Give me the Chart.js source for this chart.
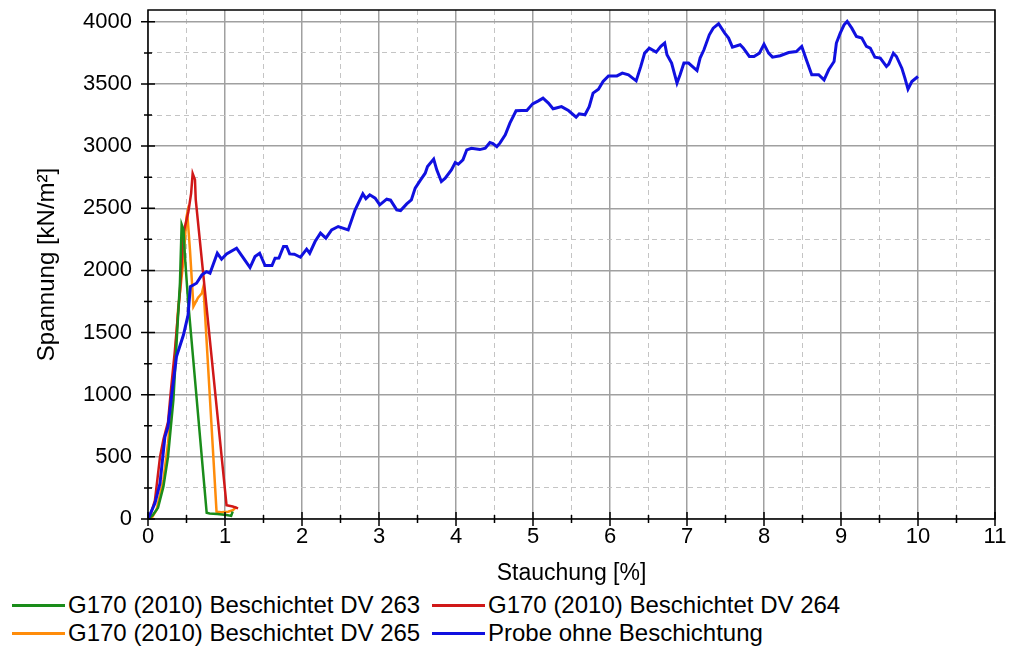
<!DOCTYPE html>
<html>
<head>
<meta charset="utf-8">
<script src="https://cdn.jsdelivr.net/npm/chart.js@4.4.1/dist/chart.umd.min.js"></script>
<style>
  html, body { margin: 0; padding: 0; background: #fff; }
  #wrap { position: absolute; left: 0; top: 0; width: 1010px; height: 590px; }
  #legend { position: absolute; left: 0; top: 590px; width: 1010px; height: 60px;
            font-family: "Liberation Sans", Arial, sans-serif; font-size: 24px; color: #000; }
  .item { position: absolute; height: 28px; line-height: 28px; white-space: nowrap; }
  .sw { display: inline-block; width: 53px; height: 3px; vertical-align: middle; margin-right: 3px; position: relative; top: -1px; }
</style>
</head>
<body>
<div id="wrap"><canvas id="c"></canvas></div>
<div id="legend"></div>
<script>
// ---- data ----
const seriesNames = [
  "G170 (2010) Beschichtet DV 263",
  "G170 (2010) Beschichtet DV 264",
  "G170 (2010) Beschichtet DV 265",
  "Probe ohne Beschichtung"
];

const dv263X = [0, 0.06, 0.13, 0.2, 0.26, 0.33, 0.39, 0.415, 0.437, 0.46, 0.48, 0.52, 0.762, 0.8, 0.9, 1.02, 1.08, 1.1];
const dv263Y = [0, 30, 90, 260, 500, 960, 1630, 1900, 2370, 2330, 2110, 1760, 50, 45, 40, 32, 25, 60];

const dv264X = [0, 0.02, 0.09, 0.156, 0.2, 0.26, 0.3, 0.35, 0.416, 0.46, 0.524, 0.56, 0.58, 0.61, 0.62, 1.02, 1.1, 1.17];
const dv264Y = [0, 10, 150, 500, 640, 780, 1050, 1360, 1840, 2300, 2470, 2620, 2780, 2730, 2570, 110, 100, 85];

const dv265X = [0, 0.04, 0.11, 0.2, 0.26, 0.33, 0.39, 0.46, 0.5, 0.51, 0.545, 0.59, 0.65, 0.7, 0.72, 0.89, 0.95, 1.04, 1.1, 1.15];
const dv265Y = [0, 0, 72, 314, 610, 1090, 1680, 2080, 2430, 2460, 2165, 1710, 1780, 1816, 1870, 59, 55, 59, 70, 99];

const probeX = [0, 0.09, 0.156, 0.22, 0.26, 0.31, 0.37, 0.46, 0.52, 0.55, 0.63, 0.70, 0.76, 0.805, 0.90, 0.955, 1.02, 1.15, 1.24, 1.325, 1.39, 1.45, 1.52, 1.61, 1.65, 1.70, 1.76, 1.80, 1.84, 1.90, 1.98, 2.06, 2.10, 2.17, 2.24, 2.31, 2.385, 2.47, 2.60, 2.69, 2.79, 2.83, 2.88, 2.95, 3.01, 3.10, 3.15, 3.23, 3.28, 3.36, 3.42, 3.47, 3.54, 3.60, 3.63, 3.71, 3.75, 3.81, 3.86, 3.94, 3.99, 4.03, 4.09, 4.14, 4.20, 4.31, 4.38, 4.44, 4.48, 4.53, 4.57, 4.64, 4.70, 4.78, 4.85, 4.92, 4.995, 5.07, 5.13, 5.20, 5.26, 5.29, 5.37, 5.46, 5.56, 5.60, 5.675, 5.73, 5.78, 5.85, 5.91, 5.98, 6.09, 6.16, 6.24, 6.34, 6.40, 6.45, 6.51, 6.60, 6.66, 6.71, 6.74, 6.80, 6.87, 6.91, 6.96, 7.02, 7.13, 7.17, 7.22, 7.29, 7.34, 7.41, 7.49, 7.54, 7.59, 7.69, 7.73, 7.81, 7.87, 7.94, 8.0, 8.06, 8.11, 8.21, 8.32, 8.42, 8.49, 8.55, 8.62, 8.71, 8.78, 8.84, 8.91, 8.94, 8.99, 9.04, 9.08, 9.14, 9.20, 9.27, 9.33, 9.38, 9.44, 9.51, 9.59, 9.62, 9.68, 9.72, 9.79, 9.83, 9.87, 9.92, 10.0];
const probeY = [0, 126, 287, 662, 743, 1011, 1306, 1480, 1640, 1870, 1897, 1964, 1990, 1977, 2138, 2090, 2133, 2179, 2098, 2023, 2111, 2138, 2039, 2039, 2098, 2100, 2192, 2192, 2133, 2130, 2106, 2171, 2138, 2232, 2300, 2259, 2326, 2353, 2326, 2487, 2616, 2578, 2608, 2581, 2527, 2573, 2565, 2487, 2481, 2535, 2567, 2662, 2728, 2782, 2836, 2895, 2809, 2715, 2742, 2809, 2868, 2854, 2889, 2970, 2983, 2972, 2983, 3029, 3020, 2996, 3024, 3090, 3185, 3284, 3286, 3286, 3340, 3364, 3386, 3346, 3300, 3305, 3318, 3286, 3233, 3260, 3252, 3318, 3426, 3458, 3520, 3565, 3565, 3587, 3574, 3525, 3641, 3748, 3788, 3756, 3802, 3829, 3735, 3668, 3507, 3574, 3668, 3668, 3608, 3708, 3775, 3895, 3949, 3984, 3909, 3869, 3796, 3815, 3790, 3721, 3721, 3748, 3820, 3748, 3716, 3727, 3753, 3761, 3802, 3694, 3574, 3574, 3533, 3614, 3680, 3829, 3909, 3976, 4003, 3949, 3882, 3869, 3802, 3788, 3716, 3708, 3641, 3660, 3748, 3721, 3627, 3547, 3458, 3520, 3560];

const xTickValues = [0, 0.5, 1, 1.5, 2, 2.5, 3, 3.5, 4, 4.5, 5, 5.5, 6, 6.5, 7, 7.5, 8, 8.5, 9, 9.5, 10, 10.5, 11];
const yTickValues = [0, 250, 500, 750, 1000, 1250, 1500, 1750, 2000, 2250, 2500, 2750, 3000, 3250, 3500, 3750, 4000];
const xLabelStep = 1;
const yLabelStep = 500;
const xMin = 0, xMax = 11, yMin = 0, yMax = 4095;

const colors = ["#1a8c1a", "#d01818", "#ff8c0a", "#1010e0"];
const widths = [2.5, 2.5, 2.5, 3];

// ---- build ----
function pts(xs, ys) { return xs.map((x, i) => ({ x: x, y: ys[i] })); }
const seriesData = [pts(dv263X, dv263Y), pts(dv264X, dv264Y), pts(dv265X, dv265Y), pts(probeX, probeY)];
const drawOrder = [1, 2, 3, 0];

const FONT = '"Liberation Sans", Arial, sans-serif';
const isMajor = (v, step) => Math.abs(v / step - Math.round(v / step)) < 1e-6;

const frameAndTicks = {
  id: 'frameAndTicks',
  afterDraw(chart) {
    const ctx = chart.ctx, a = chart.chartArea;
    const xs = chart.scales.x, ys = chart.scales.y;
    ctx.save();
    ctx.strokeStyle = '#000';
    ctx.lineWidth = 1.5;
    ctx.strokeRect(a.left, a.top, a.right - a.left, a.bottom - a.top);
    ctx.beginPath();
    xTickValues.forEach(v => {
      const p = xs.getPixelForValue(v);
      const l = isMajor(v, xLabelStep) ? 7 : 4;
      ctx.moveTo(p, a.bottom - l); ctx.lineTo(p, a.bottom + l);
    });
    yTickValues.forEach(v => {
      const p = ys.getPixelForValue(v);
      const l = isMajor(v, yLabelStep) ? 7 : 4;
      ctx.moveTo(a.left - l, p); ctx.lineTo(a.left + l, p);
    });
    ctx.stroke();
    ctx.restore();
  }
};

const gridOpts = (step) => ({
  drawTicks: false,
  color: (c) => (c.tick && isMajor(c.tick.value, step)) ? '#a0a0a0' : '#c4c4c4',
  lineWidth: (c) => (c.tick && isMajor(c.tick.value, step)) ? 1.5 : 1
});
const borderOpts = (step) => ({
  display: false,
  dash: (c) => (c.tick && !isMajor(c.tick.value, step)) ? [5, 4] : []
});

const chart = new Chart(document.getElementById('c'), {
  type: 'line',
  data: {
    datasets: seriesData.map((d, i) => ({
      label: seriesNames[i],
      data: d,
      borderColor: colors[i],
      backgroundColor: colors[i],
      borderWidth: widths[i],
      pointRadius: 0,
      tension: 0,
      order: drawOrder[i]
    }))
  },
  options: {
    responsive: true,
    maintainAspectRatio: false,
    animation: false,
    layout: { padding: { top: 10, right: 15, left: 0, bottom: 0 } },
    plugins: { legend: { display: false }, tooltip: { enabled: false } },
    scales: {
      x: {
        type: 'linear', min: xMin, max: xMax,
        afterBuildTicks: (s) => { s.ticks = xTickValues.map(v => ({ value: v })); },
        afterFit: (s) => { s.height = 71; s.paddingLeft = 0; s.paddingRight = 0; },
        ticks: {
          autoSkip: false, maxRotation: 0, padding: 5, color: '#000',
          font: { family: FONT, size: 22 },
          callback: (v) => isMajor(v, xLabelStep) ? String(Math.round(v)) : ''
        },
        grid: gridOpts(xLabelStep),
        border: borderOpts(xLabelStep),
        title: { display: true, text: 'Stauchung [%]', color: '#000',
                 font: { family: FONT, size: 23 }, padding: { top: 0, bottom: 3 } }
      },
      y: {
        type: 'linear', min: yMin, max: yMax,
        afterBuildTicks: (s) => { s.ticks = yTickValues.map(v => ({ value: v })); },
        afterFit: (s) => { s.width = 148; s.paddingTop = 0; s.paddingBottom = 0; },
        ticks: {
          autoSkip: false, padding: 16, color: '#000',
          font: { family: FONT, size: 22 },
          callback: (v) => isMajor(v, yLabelStep) ? String(Math.round(v)) : ''
        },
        grid: gridOpts(yLabelStep),
        border: borderOpts(yLabelStep),
        title: { display: true, text: 'Spannung [kN/m²]', color: '#000',
                 font: { family: FONT, size: 24 }, padding: { top: 33, bottom: 0 } }
      }
    }
  },
  plugins: [frameAndTicks]
});

// ---- legend (HTML, from the datasets) ----
const legendPos = [[12, 1], [432, 1], [12, 29], [432, 29]];
const leg = document.getElementById('legend');
chart.data.datasets.forEach((ds, i) => {
  const it = document.createElement('div');
  it.className = 'item';
  it.style.left = legendPos[i][0] + 'px';
  it.style.top = legendPos[i][1] + 'px';
  const sw = document.createElement('span');
  sw.className = 'sw';
  sw.style.background = ds.borderColor;
  it.appendChild(sw);
  it.appendChild(document.createTextNode(ds.label));
  leg.appendChild(it);
});
</script>
</body>
</html>
